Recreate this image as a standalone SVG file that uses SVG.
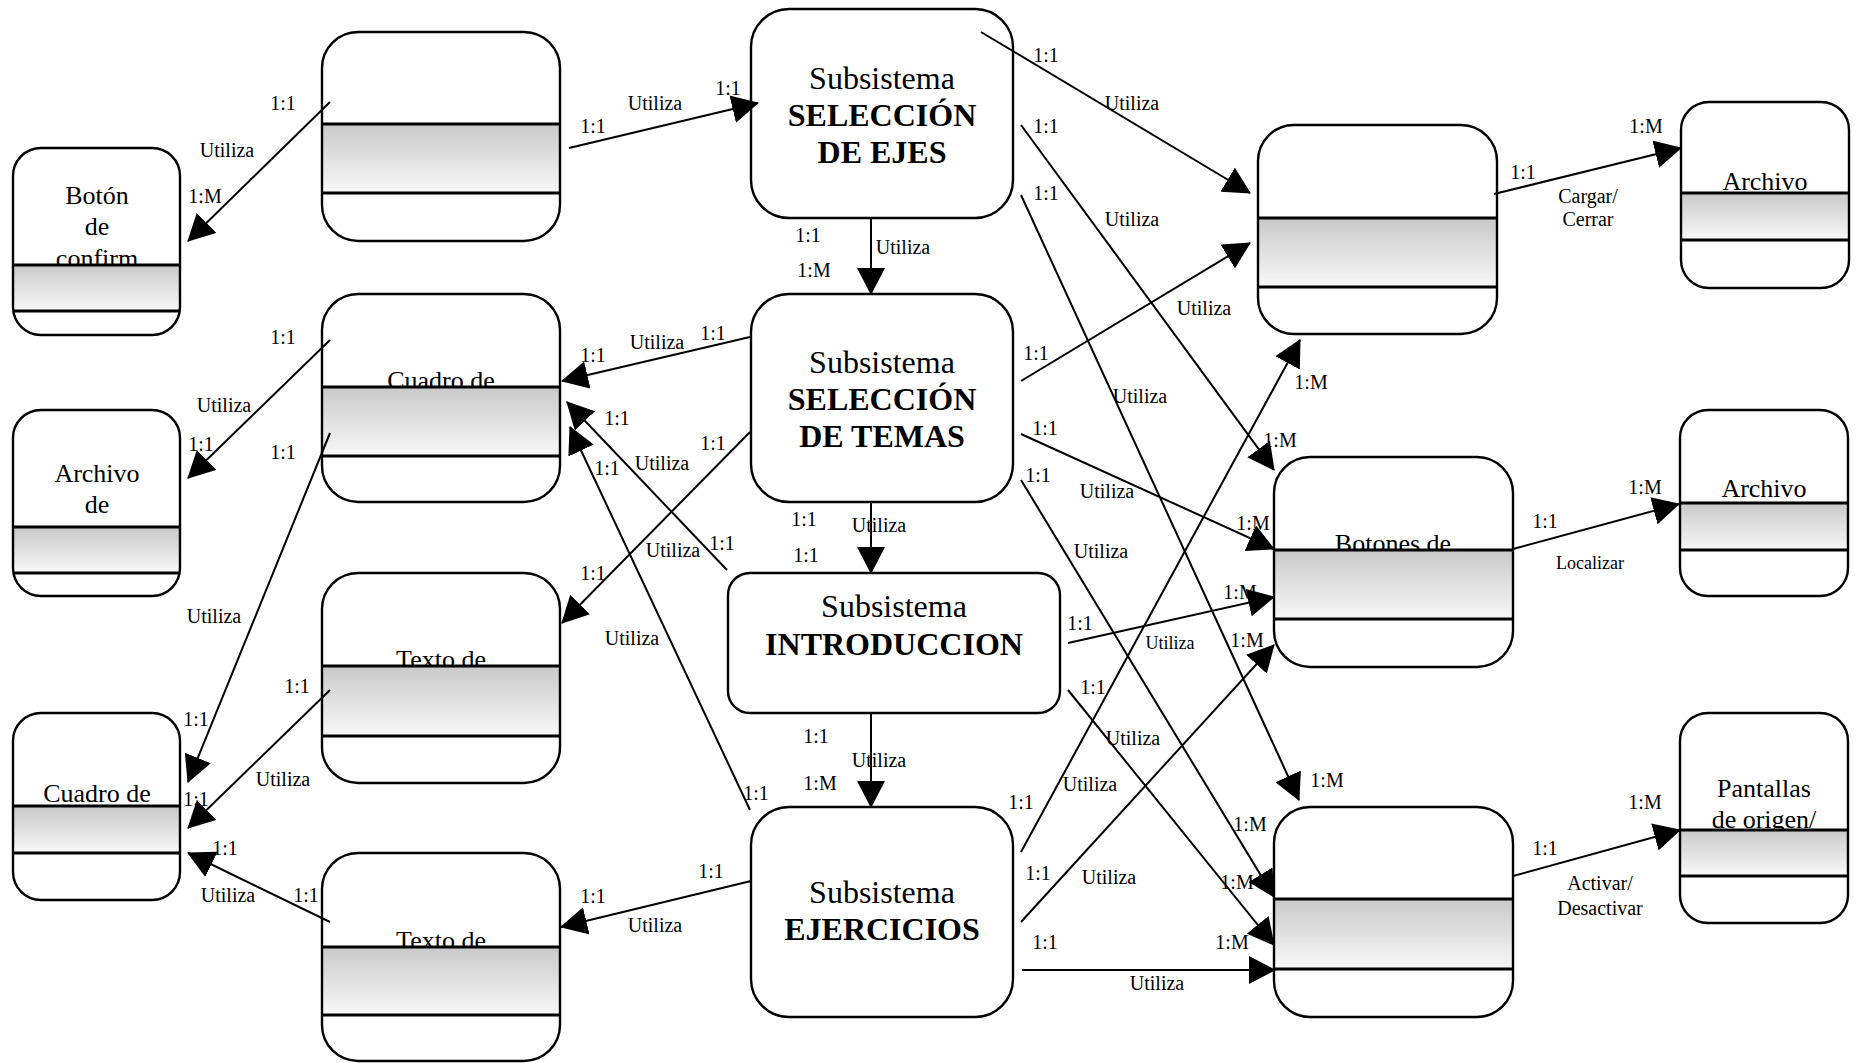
<svg xmlns="http://www.w3.org/2000/svg" width="1858" height="1063" viewBox="0 0 1858 1063">
<defs>
<linearGradient id="g" x1="0" y1="0" x2="0" y2="1">
<stop offset="0" stop-color="#c9c9c9"/>
<stop offset="1" stop-color="#f8f8f8"/>
</linearGradient>
<marker id="ah" markerUnits="userSpaceOnUse" markerWidth="27" markerHeight="28" refX="26" refY="14" orient="auto">
<path d="M0,0 L27,14 L0,28 z" fill="#000"/>
</marker>
<style>
.bg{fill:#fff;stroke:none}
.bd{fill:none;stroke:#000;stroke-width:2.4}
.sp{fill:url(#g)}
.sl{stroke:#000;stroke-width:3}
text{font-family:"Liberation Serif","Times New Roman",serif;fill:#000}
.nt{font-size:26px;text-anchor:middle}
.st{font-size:32px;text-anchor:middle}
.b{font-weight:bold}
.l{font-size:20px;text-anchor:middle}
.s{font-size:18px;text-anchor:middle}
#connectors line{stroke:#000;stroke-width:2;marker-end:url(#ah)}
</style>
</defs>
<rect width="1858" height="1063" fill="#fff"/>

<g id="n-boton">
<rect class="bg" x="13" y="148" width="167" height="187" rx="28"/>
<text class="nt" x="97" y="204">Botón</text>
<text class="nt" x="97" y="235">de</text>
<text class="nt" x="97" y="267">confirm</text>
<rect class="sp" x="13" y="265" width="167" height="46"/>
<line class="sl" x1="13" y1="265" x2="180" y2="265"/>
<line class="sl" x1="13" y1="311" x2="180" y2="311"/>
<rect class="bd" x="13" y="148" width="167" height="187" rx="28"/>
</g>

<g id="n-top">
<rect class="bg" x="322" y="32" width="238" height="209" rx="36"/>
<rect class="sp" x="322" y="124" width="238" height="69"/>
<line class="sl" x1="322" y1="124" x2="560" y2="124"/>
<line class="sl" x1="322" y1="193" x2="560" y2="193"/>
<rect class="bd" x="322" y="32" width="238" height="209" rx="36"/>
</g>

<g id="n-archivo-de">
<rect class="bg" x="13" y="410" width="167" height="186" rx="28"/>
<text class="nt" x="97" y="482">Archivo</text>
<text class="nt" x="97" y="513">de</text>
<rect class="sp" x="13" y="527" width="167" height="46"/>
<line class="sl" x1="13" y1="527" x2="180" y2="527"/>
<line class="sl" x1="13" y1="573" x2="180" y2="573"/>
<rect class="bd" x="13" y="410" width="167" height="186" rx="28"/>
</g>

<g id="n-cuadro-mid">
<rect class="bg" x="322" y="294" width="238" height="208" rx="36"/>
<text class="nt" x="441" y="389">Cuadro de</text>
<rect class="sp" x="322" y="387" width="238" height="69"/>
<line class="sl" x1="322" y1="387" x2="560" y2="387"/>
<line class="sl" x1="322" y1="456" x2="560" y2="456"/>
<rect class="bd" x="322" y="294" width="238" height="208" rx="36"/>
</g>

<g id="n-texto1">
<rect class="bg" x="322" y="573" width="238" height="210" rx="36"/>
<text class="nt" x="441" y="668">Texto de</text>
<rect class="sp" x="322" y="666" width="238" height="70"/>
<line class="sl" x1="322" y1="666" x2="560" y2="666"/>
<line class="sl" x1="322" y1="736" x2="560" y2="736"/>
<rect class="bd" x="322" y="573" width="238" height="210" rx="36"/>
</g>

<g id="n-cuadro-left">
<rect class="bg" x="13" y="713" width="167" height="187" rx="28"/>
<text class="nt" x="97" y="802">Cuadro de</text>
<rect class="sp" x="13" y="806" width="167" height="47"/>
<line class="sl" x1="13" y1="806" x2="180" y2="806"/>
<line class="sl" x1="13" y1="853" x2="180" y2="853"/>
<rect class="bd" x="13" y="713" width="167" height="187" rx="28"/>
</g>

<g id="n-texto2">
<rect class="bg" x="322" y="853" width="238" height="208" rx="36"/>
<text class="nt" x="441" y="949">Texto de</text>
<rect class="sp" x="322" y="947" width="238" height="68"/>
<line class="sl" x1="322" y1="947" x2="560" y2="947"/>
<line class="sl" x1="322" y1="1015" x2="560" y2="1015"/>
<rect class="bd" x="322" y="853" width="238" height="208" rx="36"/>
</g>

<g id="n-ejes">
<rect class="bg" x="751" y="9" width="262" height="209" rx="38"/>
<text class="st" x="882" y="89">Subsistema</text>
<text class="st b" x="882" y="126">SELECCIÓN</text>
<text class="st b" x="882" y="163">DE EJES</text>
<rect class="bd" x="751" y="9" width="262" height="209" rx="38"/>
</g>

<g id="n-temas">
<rect class="bg" x="751" y="294" width="262" height="208" rx="38"/>
<text class="st" x="882" y="373">Subsistema</text>
<text class="st b" x="882" y="410">SELECCIÓN</text>
<text class="st b" x="882" y="447">DE TEMAS</text>
<rect class="bd" x="751" y="294" width="262" height="208" rx="38"/>
</g>

<g id="n-intro">
<rect class="bg" x="728" y="573" width="332" height="140" rx="22"/>
<text class="st" x="894" y="617">Subsistema</text>
<text class="st b" x="894" y="655">INTRODUCCION</text>
<rect class="bd" x="728" y="573" width="332" height="140" rx="22"/>
</g>

<g id="n-ejercicios">
<rect class="bg" x="751" y="807" width="262" height="210" rx="38"/>
<text class="st" x="882" y="903">Subsistema</text>
<text class="st b" x="882" y="940">EJERCICIOS</text>
<rect class="bd" x="751" y="807" width="262" height="210" rx="38"/>
</g>

<g id="n-right1">
<rect class="bg" x="1258" y="125" width="239" height="209" rx="36"/>
<rect class="sp" x="1258" y="218" width="239" height="69"/>
<line class="sl" x1="1258" y1="218" x2="1497" y2="218"/>
<line class="sl" x1="1258" y1="287" x2="1497" y2="287"/>
<rect class="bd" x="1258" y="125" width="239" height="209" rx="36"/>
</g>

<g id="n-archivo1">
<rect class="bg" x="1681" y="102" width="168" height="186" rx="28"/>
<text class="nt" x="1765" y="190">Archivo</text>
<rect class="sp" x="1681" y="193" width="168" height="47"/>
<line class="sl" x1="1681" y1="193" x2="1849" y2="193"/>
<line class="sl" x1="1681" y1="240" x2="1849" y2="240"/>
<rect class="bd" x="1681" y="102" width="168" height="186" rx="28"/>
</g>

<g id="n-botones">
<rect class="bg" x="1274" y="457" width="239" height="210" rx="36"/>
<text class="nt" x="1393" y="552">Botones de</text>
<rect class="sp" x="1274" y="550" width="239" height="69"/>
<line class="sl" x1="1274" y1="550" x2="1513" y2="550"/>
<line class="sl" x1="1274" y1="619" x2="1513" y2="619"/>
<rect class="bd" x="1274" y="457" width="239" height="210" rx="36"/>
</g>

<g id="n-archivo2">
<rect class="bg" x="1680" y="410" width="168" height="186" rx="28"/>
<text class="nt" x="1764" y="497">Archivo</text>
<rect class="sp" x="1680" y="503" width="168" height="47"/>
<line class="sl" x1="1680" y1="503" x2="1848" y2="503"/>
<line class="sl" x1="1680" y1="550" x2="1848" y2="550"/>
<rect class="bd" x="1680" y="410" width="168" height="186" rx="28"/>
</g>

<g id="n-right3">
<rect class="bg" x="1274" y="807" width="239" height="210" rx="36"/>
<rect class="sp" x="1274" y="899" width="239" height="70"/>
<line class="sl" x1="1274" y1="899" x2="1513" y2="899"/>
<line class="sl" x1="1274" y1="969" x2="1513" y2="969"/>
<rect class="bd" x="1274" y="807" width="239" height="210" rx="36"/>
</g>

<g id="n-pantallas">
<rect class="bg" x="1680" y="713" width="168" height="210" rx="28"/>
<text class="nt" x="1764" y="797">Pantallas</text>
<text class="nt" x="1764" y="828">de origen/</text>
<rect class="sp" x="1680" y="830" width="168" height="46"/>
<line class="sl" x1="1680" y1="830" x2="1848" y2="830"/>
<line class="sl" x1="1680" y1="876" x2="1848" y2="876"/>
<rect class="bd" x="1680" y="713" width="168" height="210" rx="28"/>
</g>

<g id="connectors">
<line x1="330" y1="102" x2="188" y2="241"/>
<line x1="569" y1="148" x2="758" y2="103"/>
<line x1="871" y1="218" x2="871" y2="294"/>
<line x1="981" y1="32" x2="1250" y2="193"/>
<line x1="1021" y1="125" x2="1274" y2="470"/>
<line x1="1021" y1="195" x2="1299" y2="800"/>
<line x1="1021" y1="381" x2="1250" y2="243"/>
<line x1="1021" y1="434" x2="1274" y2="549"/>
<line x1="1021" y1="480" x2="1274" y2="897"/>
<line x1="1068" y1="643" x2="1274" y2="597"/>
<line x1="1068" y1="690" x2="1274" y2="945"/>
<line x1="1021" y1="852" x2="1300" y2="340"/>
<line x1="1021" y1="922" x2="1274" y2="645"/>
<line x1="1022" y1="970" x2="1275" y2="970"/>
<line x1="750" y1="337" x2="562" y2="381"/>
<line x1="727" y1="570" x2="567" y2="402"/>
<line x1="750" y1="432" x2="562" y2="623"/>
<line x1="750" y1="810" x2="570" y2="427"/>
<line x1="751" y1="881" x2="561" y2="927"/>
<line x1="330" y1="340" x2="188" y2="478"/>
<line x1="330" y1="433" x2="188" y2="782"/>
<line x1="330" y1="690" x2="188" y2="828"/>
<line x1="330" y1="922" x2="188" y2="853"/>
<line x1="1494" y1="194" x2="1681" y2="148"/>
<line x1="1513" y1="549" x2="1679" y2="504"/>
<line x1="1513" y1="876" x2="1680" y2="830"/>
<line x1="871" y1="502" x2="871" y2="573"/>
<line x1="871" y1="713" x2="871" y2="807"/>
</g>

<g id="labels">
<text class="l" x="283" y="110">1:1</text>
<text class="l" x="227" y="157">Utiliza</text>
<text class="l" x="205" y="203">1:M</text>
<text class="l" x="593" y="133">1:1</text>
<text class="l" x="655" y="110">Utiliza</text>
<text class="l" x="728" y="95">1:1</text>
<text class="l" x="808" y="242">1:1</text>
<text class="l" x="903" y="254">Utiliza</text>
<text class="l" x="814" y="277">1:M</text>
<text class="l" x="1046" y="62">1:1</text>
<text class="l" x="1132" y="110">Utiliza</text>
<text class="l" x="1046" y="133">1:1</text>
<text class="l" x="1132" y="226">Utiliza</text>
<text class="l" x="1280" y="447">1:M</text>
<text class="l" x="1046" y="200">1:1</text>
<text class="l" x="1140" y="403">Utiliza</text>
<text class="l" x="1327" y="787">1:M</text>
<text class="l" x="1036" y="360">1:1</text>
<text class="l" x="1204" y="315">Utiliza</text>
<text class="l" x="1045" y="435">1:1</text>
<text class="l" x="1107" y="498">Utiliza</text>
<text class="l" x="1253" y="530">1:M</text>
<text class="l" x="1038" y="482">1:1</text>
<text class="l" x="1101" y="558">Utiliza</text>
<text class="l" x="1250" y="831">1:M</text>
<text class="l" x="1080" y="630">1:1</text>
<text class="s" x="1170" y="649">Utiliza</text>
<text class="l" x="1240" y="599">1:M</text>
<text class="l" x="1093" y="694">1:1</text>
<text class="l" x="1133" y="745">Utiliza</text>
<text class="l" x="1237" y="889">1:M</text>
<text class="l" x="1021" y="809">1:1</text>
<text class="l" x="1090" y="791">Utiliza</text>
<text class="l" x="1311" y="389">1:M</text>
<text class="l" x="1038" y="880">1:1</text>
<text class="l" x="1109" y="884">Utiliza</text>
<text class="l" x="1247" y="647">1:M</text>
<text class="l" x="1045" y="949">1:1</text>
<text class="l" x="1157" y="990">Utiliza</text>
<text class="l" x="1232" y="949">1:M</text>
<text class="l" x="713" y="340">1:1</text>
<text class="l" x="657" y="349">Utiliza</text>
<text class="l" x="593" y="362">1:1</text>
<text class="l" x="722" y="550">1:1</text>
<text class="l" x="662" y="470">Utiliza</text>
<text class="l" x="617" y="425">1:1</text>
<text class="l" x="713" y="450">1:1</text>
<text class="l" x="673" y="557">Utiliza</text>
<text class="l" x="593" y="580">1:1</text>
<text class="l" x="756" y="800">1:1</text>
<text class="l" x="632" y="645">Utiliza</text>
<text class="l" x="607" y="475">1:1</text>
<text class="l" x="711" y="878">1:1</text>
<text class="l" x="655" y="932">Utiliza</text>
<text class="l" x="593" y="903">1:1</text>
<text class="l" x="283" y="344">1:1</text>
<text class="l" x="224" y="412">Utiliza</text>
<text class="l" x="201" y="451">1:1</text>
<text class="l" x="283" y="459">1:1</text>
<text class="l" x="214" y="623">Utiliza</text>
<text class="l" x="196" y="726">1:1</text>
<text class="l" x="297" y="693">1:1</text>
<text class="l" x="283" y="786">Utiliza</text>
<text class="l" x="196" y="806">1:1</text>
<text class="l" x="306" y="902">1:1</text>
<text class="l" x="228" y="902">Utiliza</text>
<text class="l" x="225" y="855">1:1</text>
<text class="l" x="1523" y="179">1:1</text>
<text class="l" x="1588" y="203">Cargar/</text>
<text class="l" x="1588" y="226">Cerrar</text>
<text class="l" x="1646" y="133">1:M</text>
<text class="l" x="1545" y="528">1:1</text>
<text class="s" x="1590" y="569">Localizar</text>
<text class="l" x="1645" y="494">1:M</text>
<text class="l" x="1545" y="855">1:1</text>
<text class="l" x="1600" y="890">Activar/</text>
<text class="l" x="1600" y="915">Desactivar</text>
<text class="l" x="1645" y="809">1:M</text>
<text class="l" x="804" y="526">1:1</text>
<text class="l" x="879" y="532">Utiliza</text>
<text class="l" x="806" y="562">1:1</text>
<text class="l" x="816" y="743">1:1</text>
<text class="l" x="879" y="767">Utiliza</text>
<text class="l" x="820" y="790">1:M</text>
</g>
</svg>
